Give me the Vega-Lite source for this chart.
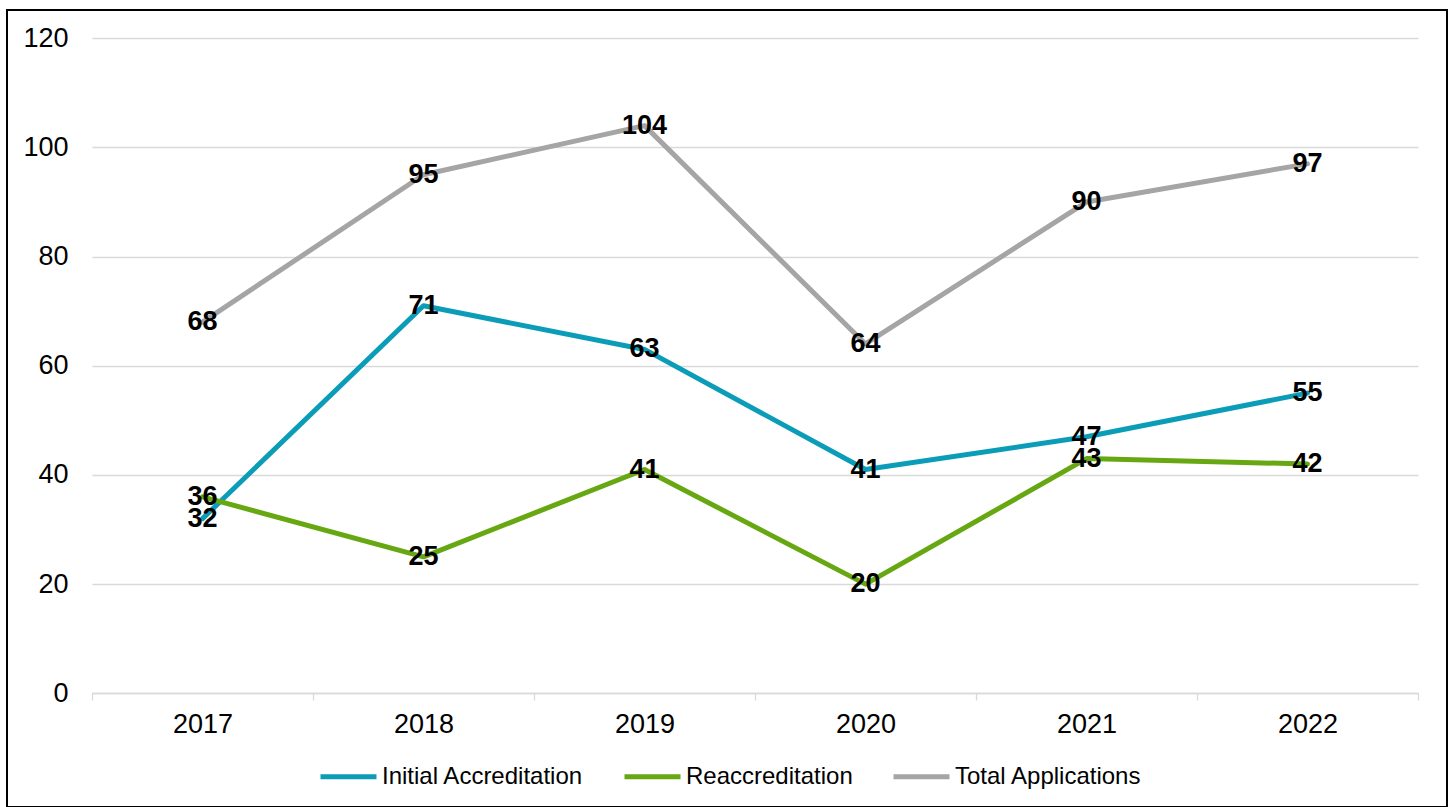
{
  "$schema": "https://vega.github.io/schema/vega-lite/v6.json",
  "width": 1440,
  "height": 797,
  "autosize": {"type": "none"},
  "padding": {"left": 7, "top": 10, "right": 6, "bottom": 0},
  "background": "white",
  "config": {
    "view": {"stroke": "#000000", "strokeWidth": 2},
    "font": "Liberation Sans",
    "axis": {"labelFont": "Liberation Sans", "labelColor": "#000000", "title": null}
  },
  "data": {
    "values": [
      {"year": "2017", "series": "Initial Accreditation", "value": 32},
      {"year": "2018", "series": "Initial Accreditation", "value": 71},
      {"year": "2019", "series": "Initial Accreditation", "value": 63},
      {"year": "2020", "series": "Initial Accreditation", "value": 41},
      {"year": "2021", "series": "Initial Accreditation", "value": 47},
      {"year": "2022", "series": "Initial Accreditation", "value": 55},
      {"year": "2017", "series": "Reaccreditation", "value": 36},
      {"year": "2018", "series": "Reaccreditation", "value": 25},
      {"year": "2019", "series": "Reaccreditation", "value": 41},
      {"year": "2020", "series": "Reaccreditation", "value": 20},
      {"year": "2021", "series": "Reaccreditation", "value": 43},
      {"year": "2022", "series": "Reaccreditation", "value": 42},
      {"year": "2017", "series": "Total Applications", "value": 68},
      {"year": "2018", "series": "Total Applications", "value": 95},
      {"year": "2019", "series": "Total Applications", "value": 104},
      {"year": "2020", "series": "Total Applications", "value": 64},
      {"year": "2021", "series": "Total Applications", "value": 90},
      {"year": "2022", "series": "Total Applications", "value": 97}
    ]
  },
  "encoding": {
    "x": {
      "field": "year",
      "type": "ordinal",
      "bandPosition": 0.5,
      "scale": {"type": "band", "range": [85, 1411], "paddingInner": 0, "paddingOuter": 0},
      "axis": {
        "title": null,
        "orient": "bottom",
        "offset": -114,
        "labelAngle": 0,
        "labelFontSize": 27,
        "labelPadding": 11,
        "tickBand": "extent",
        "ticks": true,
        "tickSize": 7,
        "tickColor": "#D9D9D9",
        "tickWidth": 1.3,
        "domain": true,
        "domainColor": "#D9D9D9",
        "domainWidth": 1.3,
        "grid": false
      }
    },
    "y": {
      "field": "value",
      "type": "quantitative",
      "scale": {"domain": [0, 120], "range": [683.3, 28.3], "nice": false, "zero": true},
      "axis": {
        "title": null,
        "orient": "left",
        "offset": -70,
        "values": [0, 20, 40, 60, 80, 100, 120],
        "labelFontSize": 27,
        "labelPadding": 9,
        "ticks": false,
        "tickSize": 0,
        "domain": false,
        "grid": true,
        "gridColor": "#D9D9D9",
        "gridWidth": 1.3
      }
    }
  },
  "layer": [
    {
      "mark": {"type": "line", "strokeWidth": 5, "strokeCap": "round", "strokeJoin": "round"},
      "encoding": {
        "color": {
          "field": "series",
          "type": "nominal",
          "scale": {
            "domain": ["Initial Accreditation", "Reaccreditation", "Total Applications"],
            "range": ["#0B9DB8", "#67A812", "#A5A5A5"]
          },
          "legend": {
            "title": null,
            "orient": "none",
            "legendX": 311,
            "legendY": 736,
            "direction": "horizontal",
            "padding": 0,
            "symbolType": "stroke",
            "symbolSize": 3136,
            "symbolStrokeWidth": 5,
            "labelFont": "Liberation Sans",
            "labelFontSize": 24,
            "labelColor": "#000000",
            "labelOffset": 3,
            "labelLimit": 400,
            "columnPadding": 30
          }
        }
      }
    },
    {
      "mark": {"type": "text", "fontWeight": "bold", "fontSize": 27, "font": "Liberation Sans", "color": "#000000", "baseline": "middle", "align": "center"},
      "encoding": {
        "text": {"field": "value", "type": "quantitative"}
      }
    }
  ]
}
